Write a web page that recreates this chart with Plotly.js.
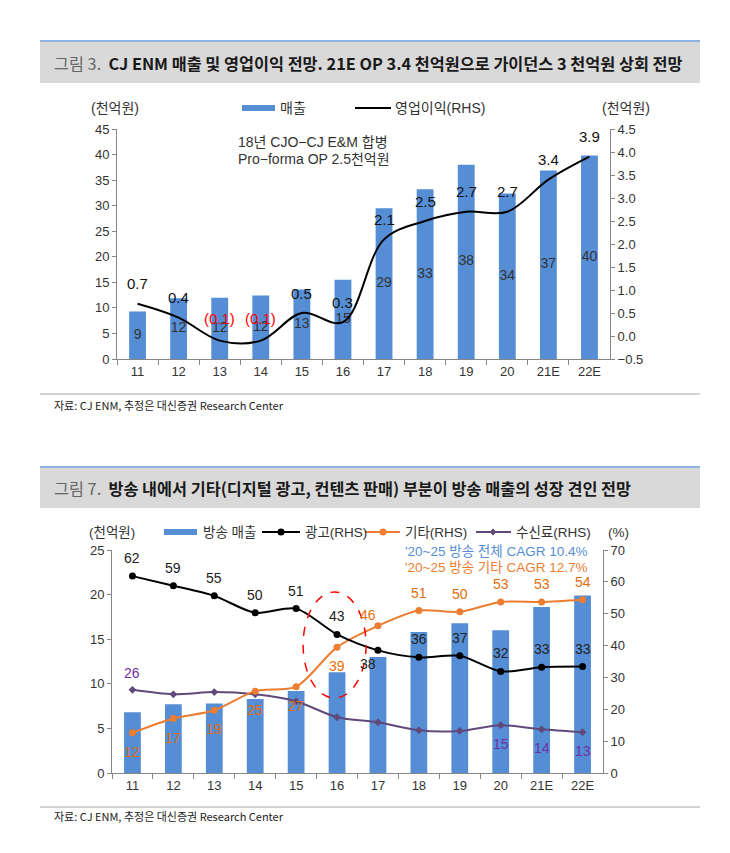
<!DOCTYPE html>
<html><head><meta charset="utf-8">
<script src="https://cdn.plot.ly/plotly-3.0.1.min.js"></script>
<style>body{margin:0;padding:0;background:#fff}#chart{width:730px;height:853px}</style>
</head><body><div id="chart"></div>
<script>
// ---------- data ----------
const years = ['11','12','13','14','15','16','17','18','19','20','21E','22E'];
// Figure 3
const sales = [9.3, 11.9, 12.0, 12.4, 13.6, 15.5, 29.5, 33.2, 38.0, 32.4, 36.9, 39.8];
const salesLabels = ['9','12','12','12','13','15','29','33','38','34','37','40'];
const op = [0.7, 0.4, -0.1, -0.1, 0.5, 0.3, 2.1, 2.5, 2.7, 2.7, 3.4, 3.9];
const opLabels = ['0.7','0.4','(0.1)','(0.1)','0.5','0.3','2.1','2.5','2.7','2.7','3.4','3.9'];
// Figure 7
const bcSales = [6.8, 7.7, 7.8, 8.3, 9.2, 11.3, 13.0, 15.8, 16.8, 16.0, 18.6, 19.9];
const adShare = [61.8, 58.8, 55.6, 50.3, 51.6, 43.5, 38.5, 36.3, 36.8, 31.9, 33.2, 33.4];
const adLabels = ['62','59','55','50','51','43','38','36','37','32','33','33'];
const otherShare = [12.6, 17.1, 19.7, 25.7, 27.1, 39.5, 46.2, 51.0, 50.6, 53.7, 53.7, 54.4];
const otherLabels = ['12','17','19','25','27','39','46','51','50','53','53','54'];
const feeShare = [26.1, 24.7, 25.4, 24.7, 22.5, 17.5, 15.9, 13.4, 13.2, 15.0, 13.7, 12.8];
const feeLabels = ['26','','','','','','','','','15','14','13'];

// ---------- helpers ----------
const W = 730, H = 853;
const X = p => p / W, Y = p => 1 - p / H;
const F = 'Liberation Sans, Arial, "Noto Sans CJK KR", sans-serif';
const FK = '"Noto Sans CJK KR", "Liberation Sans", sans-serif';
const BLUE = '#558ED5', ORANGE = '#ED7D31', PURPLE = '#60497A', AXIS = '#868686';
const ann = [], shapes = [];
function txt(x, y, t, o) {
  ann.push(Object.assign({xref:'paper', yref:'paper', x:X(x), y:Y(y), text:t, showarrow:false,
    xanchor:'left', yanchor:'middle', font:{family:F, size:14, color:'#333'}}, o || {}));
}
function hline(x0, x1, y, color, width) {
  shapes.push({type:'line', xref:'paper', yref:'paper', x0:X(x0), x1:X(x1), y0:Y(y), y1:Y(y), line:{color, width}});
}
function rect(x0, x1, y0, y1, color) {
  shapes.push({type:'rect', xref:'paper', yref:'paper', x0:X(x0), x1:X(x1), y0:Y(y1), y1:Y(y0), fillcolor:color, line:{width:0}, layer:'below'});
}
function dot(x, y, r, color) {
  shapes.push({type:'circle', xref:'paper', yref:'paper', x0:X(x-r), x1:X(x+r), y0:Y(y+r), y1:Y(y-r), fillcolor:color, line:{color, width:0}});
}
function diamond(x, y, r, color) {
  shapes.push({type:'path', xref:'paper', yref:'paper',
    path:`M ${X(x-r)},${Y(y)} L ${X(x)},${Y(y-r)} L ${X(x+r)},${Y(y)} L ${X(x)},${Y(y+r)} Z`,
    fillcolor:color, line:{color, width:0}});
}

// ---------- headers & sources ----------
rect(40, 700, 41, 83, '#D9D9D9');
hline(40, 700, 41, '#8DB3E2', 2);
txt(52, 63, '<span style="color:#666">그림 3.</span>&nbsp; <b>CJ ENM 매출 및 영업이익 전망. 21E OP 3.4 천억원으로 가이던스 3 천억원 상회 전망</b>',
  {font:{family:FK, size:16.3, color:'#1a1a1a'}});
hline(40, 700, 394, '#A6A6A6', 1);
txt(52, 405, '자료: CJ ENM, 추정은 대신증권 Research Center', {font:{family:'"Liberation Sans Narrow", "Noto Sans CJK KR", sans-serif', size:11, color:'#222'}});

rect(40, 700, 467, 508, '#D9D9D9');
hline(40, 700, 467, '#8DB3E2', 2);
txt(52, 488, '<span style="color:#666">그림 7.</span>&nbsp; <b>방송 내에서 기타(디지털 광고, 컨텐츠 판매) 부분이 방송 매출의 성장 견인 전망</b>',
  {font:{family:FK, size:16.3, color:'#1a1a1a'}});
hline(40, 700, 807, '#A6A6A6', 1);
txt(52, 816, '자료: CJ ENM, 추정은 대신증권 Research Center', {font:{family:'"Liberation Sans Narrow", "Noto Sans CJK KR", sans-serif', size:11, color:'#222'}});

// ---------- legend fig 3 ----------
txt(115, 108, '(천억원)', {xanchor:'center'});
rect(242, 275, 105, 111, BLUE);
txt(278, 108, '매출');
hline(355, 391, 108, '#000', 2);
txt(393, 108, '영업이익(RHS)');
txt(626, 108, '(천억원)', {xanchor:'center'});
txt(236, 142, '18년 CJO−CJ E&M 합병');
txt(236, 159, 'Pro−forma OP 2.5천억원');

// ---------- legend fig 7 ----------
const LF = {family:F, size:13.5, color:'#333'};
txt(112, 532, '(천억원)', {xanchor:'center', font:LF});
rect(164, 197, 529, 535, BLUE);
txt(201, 532, '방송 매출', {font:LF});
hline(262, 300, 532, '#000', 2); dot(281, 532, 3.5, '#000');
txt(303, 532, '광고(RHS)', {font:LF});
hline(365, 400, 532, ORANGE, 2); dot(383, 532, 3.5, ORANGE);
txt(403, 532, '기타(RHS)', {font:LF});
hline(476, 511, 532, PURPLE, 2); diamond(493, 532, 3.5, PURPLE);
txt(514, 532, '수신료(RHS)', {font:LF});
txt(618, 532, '(%)', {xanchor:'center', font:LF});
txt(403, 551, "'20~25 방송 전체 CAGR 10.4%", {font:{family:F, size:13.5, color:BLUE}});
txt(403, 567, "'20~25 방송 기타 CAGR 12.7%", {font:{family:F, size:13.5, color:ORANGE}});

// ---------- data labels (x given as category index) ----------
years.forEach((c, i) => {
  ann.push({xref:'x', yref:'y2', x:i, y:op[i], text:opLabels[i], showarrow:false, yshift: op[i] < 0 ? 22 : 20,
    font:{family:F, size:15, color: op[i] < 0 ? '#FF0000' : '#111'}});
  ann.push({xref:'x2', yref:'y4', x:i, y:adShare[i], text:adLabels[i], showarrow:false,
    yshift: c === '17' ? -14 : 18, xshift: c === '17' ? -10 : 0,
    font:{family:F, size:14, color:'#222'}});
  const above = i >= 6;
  ann.push({xref:'x2', yref:'y4', x:i, y:otherShare[i], text:otherLabels[i], showarrow:false,
    yshift: above ? (c === '17' ? 11 : 18) : -19, xshift: c === '17' ? -10 : 0,
    font:{family:F, size:14, color:'#E46C0A'}});
  if (feeLabels[i]) ann.push({xref:'x2', yref:'y4', x:i, y:feeShare[i], text:feeLabels[i], showarrow:false,
    yshift: i === 0 ? 17 : -19, font:{family:F, size:14, color:'#7030A0'}});
});

// ellipse
shapes.push({type:'circle', xref:'x2', yref:'y3', x0:4.17, x1:5.71, y0:8.4, y1:20.3,
  line:{color:'#FF0000', width:1.5, dash:'dash'}});

// ---------- traces ----------
const traces = [
  {type:'bar', x:years, y:sales, xaxis:'x', yaxis:'y', marker:{color:BLUE}, hoverinfo:'skip'},
  {type:'scatter', mode:'text', x:years, y:sales.map(v => v/2), text:salesLabels, xaxis:'x', yaxis:'y',
    textfont:{family:F, size:14, color:'#333'}, hoverinfo:'skip'},
  {type:'scatter', mode:'lines', x:years, y:op, xaxis:'x', yaxis:'y2', line:{color:'#000', width:2, shape:'spline', smoothing:1}, hoverinfo:'skip'},

  {type:'bar', x:years, y:bcSales, xaxis:'x2', yaxis:'y3', marker:{color:BLUE}, hoverinfo:'skip'},
  {type:'scatter', mode:'lines+markers', x:years, y:feeShare, xaxis:'x2', yaxis:'y4',
    line:{color:PURPLE, width:2, shape:'spline', smoothing:0.8}, marker:{symbol:'diamond', size:6, color:PURPLE}, hoverinfo:'skip'},
  {type:'scatter', mode:'lines+markers', x:years, y:otherShare, xaxis:'x2', yaxis:'y4',
    line:{color:ORANGE, width:2, shape:'spline', smoothing:0.8}, marker:{size:7, color:ORANGE}, hoverinfo:'skip'},
  {type:'scatter', mode:'lines+markers', x:years, y:adShare, xaxis:'x2', yaxis:'y4',
    line:{color:'#000', width:2, shape:'spline', smoothing:0.8}, marker:{size:7, color:'#000'}, hoverinfo:'skip'},
];

const baseAxis = {showline:true, linecolor:AXIS, linewidth:1, ticks:'outside', tickcolor:AXIS, ticklen:4,
  showgrid:false, zeroline:false, tickfont:{family:F, size:13, color:'#333'}, fixedrange:true};

const layout = {
  width:W, height:H, margin:{l:0, r:0, t:0, b:0}, paper_bgcolor:'#fff', plot_bgcolor:'rgba(0,0,0,0)',
  showlegend:false, bargap:0.59,
  xaxis: Object.assign({}, baseAxis, {domain:[X(117), X(610)], anchor:'y', type:'category', tickson:'boundaries', ticklen:5, range:[-0.5, 11.5]}),
  yaxis: Object.assign({}, baseAxis, {domain:[Y(359), Y(129)], anchor:'x', range:[0, 45], dtick:5, tick0:0}),
  yaxis2: Object.assign({}, baseAxis, {overlaying:'y', side:'right', anchor:'x', range:[-0.5, 4.5], dtick:0.5, tick0:-0.5, tickformat:'.1f'}),
  xaxis2: Object.assign({}, baseAxis, {domain:[X(112), X(603)], anchor:'y3', type:'category', tickson:'boundaries', ticklen:5, range:[-0.5, 11.5]}),
  yaxis3: Object.assign({}, baseAxis, {domain:[Y(773), Y(550)], anchor:'x2', range:[0, 25], dtick:5, tick0:0}),
  yaxis4: Object.assign({}, baseAxis, {overlaying:'y3', side:'right', anchor:'x2', range:[0, 70], dtick:10, tick0:0}),
  annotations: ann, shapes: shapes
};

Plotly.newPlot('chart', traces, layout, {displayModeBar:false, staticPlot:true});
</script>
</body></html>
